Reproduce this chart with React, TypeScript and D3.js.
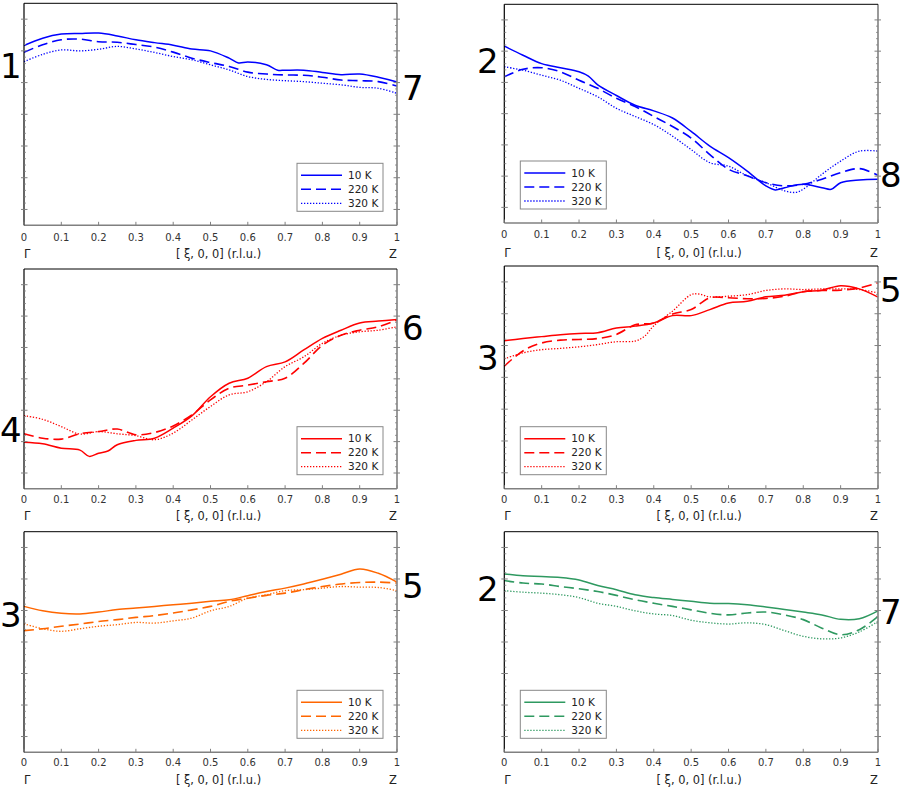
import * as d3 from "d3"

type Pt = [number, number]

// band values along [xi,0,0], in y-tick units (no y labels on the figure)
const P1_10K: Pt[] = [[0, 5.17], [0.05, 5.4], [0.1, 5.53], [0.15, 5.55], [0.2, 5.56], [0.25, 5.47], [0.3, 5.35], [0.35, 5.26], [0.4, 5.18], [0.45, 5.06], [0.5, 5.0], [0.55, 4.77], [0.575, 4.62], [0.6, 4.65], [0.65, 4.56], [0.68, 4.39], [0.7, 4.39], [0.75, 4.39], [0.8, 4.32], [0.85, 4.25], [0.9, 4.27], [0.95, 4.17], [1, 4.02]]
const P1_220K: Pt[] = [[0, 4.96], [0.05, 5.19], [0.1, 5.35], [0.15, 5.37], [0.2, 5.29], [0.25, 5.27], [0.3, 5.2], [0.35, 5.12], [0.4, 4.96], [0.45, 4.77], [0.5, 4.63], [0.55, 4.51], [0.6, 4.33], [0.65, 4.27], [0.7, 4.24], [0.75, 4.23], [0.8, 4.17], [0.85, 4.08], [0.9, 4.06], [0.95, 4.03], [1, 3.89]]
const P1_320K: Pt[] = [[0, 4.66], [0.05, 4.89], [0.1, 5.03], [0.15, 5.0], [0.2, 5.05], [0.25, 5.14], [0.3, 5.06], [0.35, 4.95], [0.4, 4.82], [0.45, 4.72], [0.5, 4.56], [0.55, 4.4], [0.6, 4.19], [0.65, 4.1], [0.7, 4.06], [0.75, 4.03], [0.8, 3.98], [0.85, 3.93], [0.9, 3.85], [0.95, 3.82], [1, 3.66]]

const P2_10K: Pt[] = [[0, 5.16], [0.05, 4.87], [0.1, 4.6], [0.15, 4.47], [0.2, 4.34], [0.225, 4.2], [0.25, 3.92], [0.3, 3.58], [0.35, 3.27], [0.4, 3.09], [0.45, 2.86], [0.5, 2.43], [0.55, 1.96], [0.6, 1.59], [0.65, 1.16], [0.7, 0.69], [0.725, 0.56], [0.75, 0.63], [0.8, 0.74], [0.85, 0.63], [0.875, 0.58], [0.9, 0.79], [0.95, 0.88], [1, 0.9]]
const P2_220K: Pt[] = [[0, 4.18], [0.05, 4.42], [0.1, 4.47], [0.15, 4.34], [0.2, 4.07], [0.25, 3.81], [0.3, 3.49], [0.35, 3.23], [0.4, 2.91], [0.45, 2.59], [0.5, 2.22], [0.55, 1.69], [0.6, 1.22], [0.65, 1.01], [0.7, 0.79], [0.75, 0.69], [0.8, 0.74], [0.85, 0.9], [0.9, 1.11], [0.95, 1.24], [1, 1.03]]
const P2_320K: Pt[] = [[0, 4.5], [0.05, 4.39], [0.1, 4.23], [0.15, 4.07], [0.2, 3.81], [0.25, 3.54], [0.3, 3.17], [0.35, 2.91], [0.4, 2.65], [0.45, 2.28], [0.5, 1.85], [0.55, 1.43], [0.6, 1.32], [0.65, 1.01], [0.7, 0.79], [0.75, 0.53], [0.78, 0.48], [0.8, 0.58], [0.85, 1.06], [0.9, 1.48], [0.95, 1.8], [1, 1.8]]

const P3_10K: Pt[] = [[0, 0.98], [0.05, 0.93], [0.1, 0.79], [0.15, 0.73], [0.175, 0.53], [0.2, 0.63], [0.225, 0.7], [0.25, 0.9], [0.3, 1.04], [0.35, 1.11], [0.4, 1.43], [0.45, 1.82], [0.5, 2.43], [0.55, 2.86], [0.6, 3.02], [0.65, 3.39], [0.7, 3.54], [0.75, 3.92], [0.8, 4.29], [0.85, 4.55], [0.9, 4.78], [0.95, 4.84], [1, 4.89]]
const P3_220K: Pt[] = [[0, 1.25], [0.05, 1.11], [0.1, 1.08], [0.15, 1.25], [0.2, 1.32], [0.25, 1.4], [0.3, 1.22], [0.35, 1.29], [0.4, 1.5], [0.45, 1.85], [0.5, 2.33], [0.55, 2.7], [0.6, 2.8], [0.65, 2.91], [0.7, 3.02], [0.75, 3.49], [0.8, 4.07], [0.85, 4.39], [0.9, 4.55], [0.95, 4.66], [1, 4.87]]
const P3_320K: Pt[] = [[0, 1.83], [0.05, 1.71], [0.1, 1.48], [0.15, 1.24], [0.2, 1.32], [0.25, 1.25], [0.3, 1.19], [0.35, 1.06], [0.4, 1.27], [0.45, 1.69], [0.5, 2.12], [0.55, 2.49], [0.6, 2.59], [0.65, 2.91], [0.7, 3.39], [0.75, 3.7], [0.8, 4.13], [0.85, 4.39], [0.9, 4.5], [0.95, 4.55], [1, 4.66]]

const P4_10K: Pt[] = [[0, 4.15], [0.05, 4.22], [0.1, 4.28], [0.15, 4.34], [0.2, 4.38], [0.25, 4.4], [0.3, 4.55], [0.35, 4.61], [0.4, 4.71], [0.45, 4.94], [0.5, 4.94], [0.55, 5.13], [0.6, 5.34], [0.65, 5.39], [0.7, 5.53], [0.75, 5.58], [0.8, 5.69], [0.85, 5.74], [0.9, 5.88], [0.95, 5.78], [1, 5.52]]
const P4_220K: Pt[] = [[0, 3.35], [0.03, 3.66], [0.06, 3.9], [0.1, 4.08], [0.15, 4.17], [0.2, 4.19], [0.25, 4.22], [0.3, 4.35], [0.35, 4.65], [0.4, 4.71], [0.45, 4.99], [0.5, 5.13], [0.55, 5.5], [0.6, 5.5], [0.65, 5.47], [0.7, 5.48], [0.75, 5.55], [0.8, 5.69], [0.85, 5.73], [0.9, 5.74], [0.95, 5.81], [1, 5.97]]
const P4_320K: Pt[] = [[0, 3.58], [0.05, 3.77], [0.1, 3.87], [0.15, 3.91], [0.2, 3.96], [0.25, 4.03], [0.3, 4.12], [0.35, 4.14], [0.375, 4.29], [0.4, 4.62], [0.45, 5.08], [0.5, 5.6], [0.52, 5.62], [0.55, 5.53], [0.6, 5.55], [0.65, 5.6], [0.7, 5.73], [0.75, 5.78], [0.8, 5.76], [0.85, 5.78], [0.9, 5.78], [0.95, 5.76], [1, 5.65]]

const P5_10K: Pt[] = [[0, 4.13], [0.05, 3.99], [0.1, 3.91], [0.15, 3.89], [0.2, 3.95], [0.25, 4.03], [0.3, 4.08], [0.35, 4.13], [0.4, 4.18], [0.45, 4.23], [0.5, 4.29], [0.55, 4.34], [0.6, 4.47], [0.65, 4.6], [0.7, 4.71], [0.75, 4.84], [0.8, 4.99], [0.85, 5.15], [0.9, 5.32], [0.95, 5.18], [1, 4.9]]
const P5_220K: Pt[] = [[0, 3.36], [0.05, 3.42], [0.1, 3.5], [0.15, 3.57], [0.2, 3.65], [0.25, 3.71], [0.3, 3.78], [0.35, 3.84], [0.4, 3.92], [0.45, 4.02], [0.5, 4.13], [0.55, 4.29], [0.6, 4.39], [0.65, 4.48], [0.7, 4.55], [0.75, 4.66], [0.8, 4.76], [0.85, 4.84], [0.9, 4.89], [0.95, 4.9], [1, 4.87]]
const P5_320K: Pt[] = [[0, 3.58], [0.05, 3.42], [0.1, 3.34], [0.15, 3.42], [0.2, 3.5], [0.25, 3.55], [0.3, 3.62], [0.35, 3.6], [0.4, 3.67], [0.45, 3.76], [0.5, 3.99], [0.55, 4.13], [0.6, 4.39], [0.65, 4.5], [0.7, 4.63], [0.75, 4.66], [0.8, 4.71], [0.85, 4.76], [0.9, 4.74], [0.95, 4.73], [1, 4.63]]

const P6_10K: Pt[] = [[0, 5.16], [0.05, 5.1], [0.1, 5.08], [0.15, 5.05], [0.2, 4.97], [0.25, 4.79], [0.3, 4.66], [0.35, 4.5], [0.4, 4.41], [0.45, 4.35], [0.5, 4.29], [0.55, 4.23], [0.6, 4.22], [0.65, 4.18], [0.7, 4.11], [0.75, 4.03], [0.8, 3.95], [0.85, 3.86], [0.9, 3.72], [0.95, 3.74], [1, 3.99]]
const P6_220K: Pt[] = [[0, 4.95], [0.05, 4.87], [0.1, 4.84], [0.15, 4.76], [0.2, 4.69], [0.25, 4.6], [0.3, 4.48], [0.35, 4.34], [0.4, 4.23], [0.45, 4.13], [0.5, 4.02], [0.55, 3.91], [0.6, 3.86], [0.65, 3.92], [0.7, 3.95], [0.75, 3.86], [0.8, 3.71], [0.85, 3.44], [0.9, 3.23], [0.95, 3.39], [1, 3.81]]
const P6_320K: Pt[] = [[0, 4.63], [0.05, 4.58], [0.1, 4.55], [0.15, 4.5], [0.2, 4.41], [0.25, 4.23], [0.3, 4.13], [0.35, 3.99], [0.4, 3.89], [0.45, 3.84], [0.5, 3.69], [0.55, 3.61], [0.6, 3.57], [0.65, 3.61], [0.7, 3.55], [0.75, 3.36], [0.8, 3.18], [0.85, 3.1], [0.9, 3.13], [0.95, 3.32], [1, 3.65]]

const SERIES_NAMES = ["10 K", "220 K", "320 K"]
const X_TICKS = [0, 0.1, 0.2, 0.3, 0.4, 0.5, 0.6, 0.7, 0.8, 0.9, 1]
const X_TICK_LABELS = ["0", "0.1", "0.2", "0.3", "0.4", "0.5", "0.6", "0.7", "0.8", "0.9", "1"]
const Y_MAJOR = [0, 1, 2, 3, 4, 5, 6]
const LEFT_BANDS = ["1", "2", "4", "3", "3", "2"]
const RIGHT_BANDS = ["7", "8", "6", "5", "5", "7"]
const X_LABEL = "[ ξ, 0, 0] (r.l.u.)"

const PANEL_SERIES = [
  [P1_10K, P1_220K, P1_320K],
  [P2_10K, P2_220K, P2_320K],
  [P3_10K, P3_220K, P3_320K],
  [P4_10K, P4_220K, P4_320K],
  [P5_10K, P5_220K, P5_320K],
  [P6_10K, P6_220K, P6_320K],
]
const PANEL_COLORS = ["#0000ff", "#0000ff", "#ff0000", "#ff0000", "#ff6600", "#2e9960"]

// layout only
const LAYOUT = [
  { x0: 24, x1: 397, y0: 3.3, y1: 225.3, leg: "right", lx: 0, ly: 78, rx: 402, ry: 100, tdy: 15.5, ldy: 33 },
  { x0: 504.3, x1: 878, y0: 4.3, y1: 223, leg: "left", lx: 477, ly: 73, rx: 880, ry: 187, tdy: 14.5, ldy: 33.5 },
  { x0: 24, x1: 397, y0: 269, y1: 488.7, leg: "right", lx: 0, ly: 442, rx: 402, ry: 340, tdy: 13.8, ldy: 31.5 },
  { x0: 504.3, x1: 878, y0: 266, y1: 488.7, leg: "left", lx: 477, ly: 370, rx: 880, ry: 302, tdy: 13.8, ldy: 31.5 },
  { x0: 24, x1: 397, y0: 531.7, y1: 752.3, leg: "right", lx: 0, ly: 627, rx: 402, ry: 598, tdy: 13.5, ldy: 32 },
  { x0: 504.3, x1: 878, y0: 531.7, y1: 752.3, leg: "left", lx: 477, ly: 601, rx: 880, ry: 624, tdy: 13.5, ldy: 32 },
]

const STYLES = [
  { w: 1.5, dash: undefined },
  { w: 1.6, dash: "10,5" },
  { w: 1.3, dash: "1.3,1.7" },
]

const FONT = "DejaVu Sans"
const AXIS_GRAY = "#808080"

function Panel({ i }: { i: number }) {
  const p = LAYOUT[i]
  const color = PANEL_COLORS[i]
  const x = d3.scaleLinear().domain([0, 1]).range([p.x0, p.x1])
  const y = d3.scaleLinear().domain([-0.5, 6.5]).range([p.y1, p.y0])
  const line = d3
    .line<Pt>()
    .x((d) => x(d[0]))
    .y((d) => y(d[1]))
    .curve(d3.curveCatmullRom.alpha(0.5))

  const minors: number[] = []
  Y_MAJOR.slice(0, -1).forEach((m) => {
    for (let k = 1; k < 5; k++) minors.push(m + k * 0.2)
  })

  const legX = p.leg === "right" ? p.x1 - 100 : p.x0 + 16
  const legY = p.y1 - 14 - 48

  return (
    <g>
      {/* curves */}
      {PANEL_SERIES[i].map((s, k) => (
        <path
          key={k}
          d={line(s) || ""}
          fill="none"
          stroke={color}
          strokeWidth={STYLES[k].w}
          strokeDasharray={STYLES[k].dash}
        />
      ))}

      {/* frame: black top/left, gray bottom/right */}
      <line x1={p.x1} x2={p.x1} y1={p.y0} y2={p.y1} stroke={AXIS_GRAY} strokeWidth={1.6} />
      <line x1={p.x0} x2={p.x1} y1={p.y1} y2={p.y1} stroke={AXIS_GRAY} strokeWidth={1.6} />
      <line x1={p.x0} x2={p.x1} y1={p.y0} y2={p.y0} stroke="#000" strokeWidth={1} />
      <line x1={p.x0} x2={p.x0} y1={p.y0} y2={p.y1} stroke="#000" strokeWidth={1.2} />

      {/* y ticks */}
      {Y_MAJOR.map((v) => (
        <g key={"M" + v} stroke={AXIS_GRAY} strokeWidth={1}>
          <line x1={p.x0 - 3} x2={p.x0 + 3.5} y1={y(v)} y2={y(v)} />
          <line x1={p.x1 - 3.5} x2={p.x1 + 3} y1={y(v)} y2={y(v)} />
        </g>
      ))}
      {minors.map((v, k) => (
        <g key={"m" + k} stroke={AXIS_GRAY} strokeWidth={0.8}>
          <line x1={p.x0} x2={p.x0 + 2} y1={y(v)} y2={y(v)} />
          <line x1={p.x1 - 2} x2={p.x1} y1={y(v)} y2={y(v)} />
        </g>
      ))}

      {/* x ticks */}
      {X_TICKS.map((t, k) => (
        <g key={"x" + k}>
          <line x1={x(t)} x2={x(t)} y1={p.y1} y2={p.y1 - 3.5} stroke={AXIS_GRAY} strokeWidth={1} />
          <text
            x={x(t)}
            y={p.y1 + p.tdy}
            textAnchor="middle"
            fontFamily={FONT}
            fontSize={10}
            fill="#333"
          >
            {X_TICK_LABELS[k]}
          </text>
        </g>
      ))}
      <text x={p.x0} y={p.y1 + p.ldy} fontFamily={FONT} fontSize={11.5} fill="#222">
        Γ
      </text>
      <text x={p.x1} y={p.y1 + p.ldy} textAnchor="end" fontFamily={FONT} fontSize={11.5} fill="#222">
        Z
      </text>
      <text
        x={(p.x0 + p.x1) / 2 + 8}
        y={p.y1 + p.ldy}
        textAnchor="middle"
        fontFamily={FONT}
        fontSize={11.4}
        fill="#222"
      >
        {X_LABEL}
      </text>

      {/* band numbers */}
      <text x={p.lx} y={p.ly} fontFamily={FONT} fontSize={34} fill="#000">
        {LEFT_BANDS[i]}
      </text>
      <text x={p.rx} y={p.ry} fontFamily={FONT} fontSize={34} fill="#000">
        {RIGHT_BANDS[i]}
      </text>

      {/* legend */}
      <rect x={legX} y={legY} width={86} height={48} fill="#fff" stroke="#888" strokeWidth={1} />
      {SERIES_NAMES.map((name, k) => (
        <g key={"l" + k}>
          <line
            x1={legX + 4}
            x2={legX + 45}
            y1={legY + 12 + k * 14}
            y2={legY + 12 + k * 14}
            stroke={color}
            strokeWidth={STYLES[k].w}
            strokeDasharray={STYLES[k].dash}
          />
          <text x={legX + 51} y={legY + 15.5 + k * 14} fontFamily={FONT} fontSize={10.5} fill="#222">
            {name}
          </text>
        </g>
      ))}
    </g>
  )
}

export default function App() {
  return (
    <div style={{ position: "absolute", left: 0, top: 0 }}>
      <svg width={902} height={792} style={{ display: "block", background: "#fff" }}>
        {LAYOUT.map((_, i) => (
          <Panel key={i} i={i} />
        ))}
      </svg>
    </div>
  )
}
